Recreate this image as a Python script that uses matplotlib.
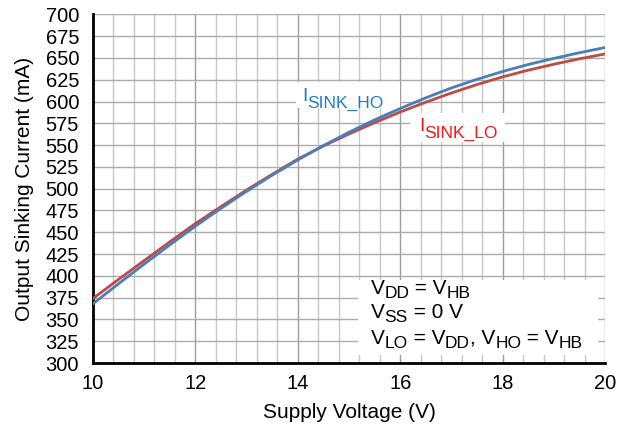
import matplotlib
matplotlib.use("Agg")
import matplotlib.pyplot as plt
from matplotlib.ticker import MultipleLocator
from matplotlib.transforms import offset_copy
from matplotlib.patches import Rectangle

plt.rcParams['font.family'] = ['Liberation Sans', 'DejaVu Sans']

# supply voltage sweep (V) and sinking current (mA)
vdd = [10, 10.5, 11, 11.5, 12, 12.5, 13, 13.5, 14, 14.5, 15,
       15.5, 16, 16.5, 17, 17.5, 18, 18.5, 19, 19.5, 20]
i_sink_ho = [368, 391, 413.5, 435.5, 457, 477.5, 497, 515.5, 533, 549.5, 564.8,
             579, 592, 604.3, 615.6, 625.5, 634.5, 642.5, 649.5, 656, 662]
i_sink_lo = [374, 396, 417.5, 439, 460, 479.5, 498.5, 516.5, 534, 549, 562.8,
             575.8, 588, 599.3, 609.8, 619.5, 628.3, 636, 642.8, 649, 654.6]

fig = plt.figure(figsize=(6.17, 4.36), dpi=100)
ax = fig.add_axes([0.1507, 0.1674, 0.8299, 0.7996])

ax.plot(vdd, i_sink_lo, color='#be4b48', lw=2, zorder=3)
ax.plot(vdd, i_sink_ho, color='#4a7ebb', lw=2, zorder=3)

ax.set_xlim(10, 20)
ax.set_ylim(300, 700)
ax.xaxis.set_major_locator(MultipleLocator(2))
ax.xaxis.set_minor_locator(MultipleLocator(0.4))
ax.yaxis.set_major_locator(MultipleLocator(25))

ax.grid(True, which='minor', axis='x', color='#c8c8c8', lw=1)
ax.grid(True, which='major', axis='x', color='#9c9c9c', lw=1)
ax.grid(True, which='major', axis='y', color='#acacac', lw=1)
ax.set_axisbelow(True)

for s in ['top', 'right']:
    ax.spines[s].set_visible(False)
for s in ['left', 'bottom']:
    ax.spines[s].set_linewidth(2)
    ax.spines[s].set_color('black')

ax.tick_params(which='both', length=0, labelsize=14.5)
ax.tick_params(axis='x', pad=8)
ax.tick_params(axis='y', pad=10)
ax.set_xlabel('Supply Voltage (V)', fontsize=15, labelpad=7)
ax.set_ylabel('Output Sinking Current (mA)', fontsize=15, labelpad=8)

renderer = fig.canvas.get_renderer()


def rich(x, y, parts, color='black'):
    # write text pieces one after another; each piece is (text, size, dy)
    dx = 0.0
    for s, size, dy in parts:
        tr = offset_copy(ax.transData, fig=fig, x=dx, y=dy, units='points')
        t = ax.text(x, y, s, fontsize=size, color=color, transform=tr,
                    ha='left', va='baseline', zorder=5)
        dx += t.get_window_extent(renderer).width * 72 / fig.dpi


def white_box(x0, y0, x1, y1):
    ax.add_patch(Rectangle((x0, y0), x1 - x0, y1 - y0, facecolor='white',
                           edgecolor='none', zorder=2.5))


white_box(13.96, 592.7, 16.0, 622.5)
rich(14.08, 601, [('I', 14, 0), ('SINK_HO', 12.5, -5)], color='#1c7ccc')

white_box(16.19, 553.7, 18.05, 587)
rich(16.37, 566.3, [('I', 14, 0), ('SINK_LO', 12.5, -5)], color='#f01818')

white_box(15.18, 309, 19.86, 395.4)
rich(15.42, 379.4, [('V', 15, 0), ('DD', 12.5, -3), (' = V', 15, 0),
                    ('HB', 12.5, -3)])
rich(15.42, 351.5, [('V', 15, 0), ('SS', 12.5, -3), (' = 0 V', 15, 0)])
rich(15.42, 322, [('V', 15, 0), ('LO', 12.5, -3), (' = V', 15, 0),
                  ('DD', 12.5, -3), (', V', 15, 0), ('HO', 12.5, -3),
                  (' = V', 15, 0), ('HB', 12.5, -3)])

fig.savefig('out.png', dpi=100)
